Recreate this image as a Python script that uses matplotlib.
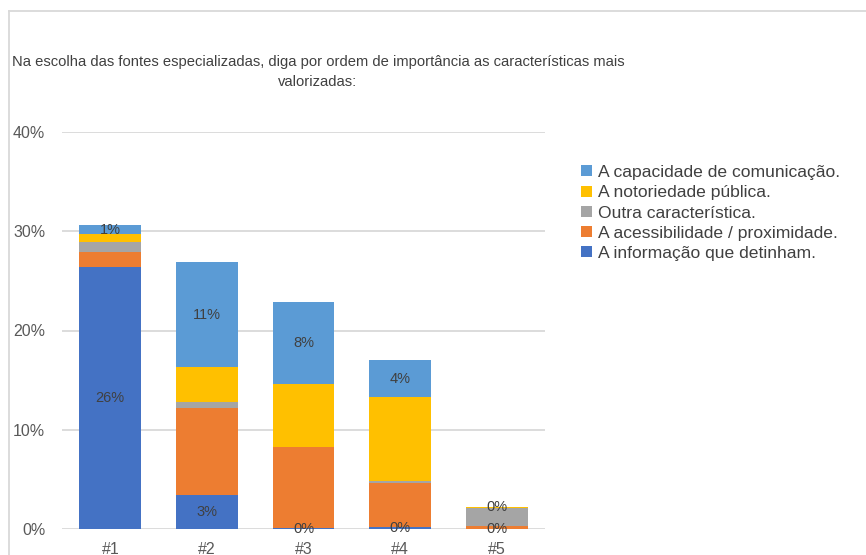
import matplotlib.pyplot as plt
from matplotlib.lines import Line2D

plt.rcParams['font.family'] = ['Liberation Sans', 'DejaVu Sans']

# values in percent
categories = ["#1", "#2", "#3", "#4", "#5"]
informacao = [26.4, 3.4, 0.1, 0.2, 0.0]
acessibilidade = [1.5, 8.8, 8.2, 4.4, 0.3]
outra = [1.0, 0.6, 0.0, 0.2, 1.8]
notoriedade = [0.8, 3.5, 6.3, 8.5, 0.1]
comunicacao = [0.9, 10.6, 8.3, 3.7, 0.0]
yticks = [0, 10, 20, 30, 40]

series = [
    ("A informação que detinham.", informacao, "#4472C4"),
    ("A acessibilidade / proximidade.", acessibilidade, "#ED7D31"),
    ("Outra característica.", outra, "#A5A5A5"),
    ("A notoriedade pública.", notoriedade, "#FFC000"),
    ("A capacidade de comunicação.", comunicacao, "#5B9BD5"),
]
labelled = ["A informação que detinham.", "A capacidade de comunicação."]

fig = plt.figure(figsize=(8.66, 5.55), dpi=100)
ax = fig.add_axes([62 / 866, 26 / 555, 483 / 866, 397 / 555])

x = list(range(len(categories)))
bottom = [0.0] * len(categories)
handles = []
for name, vals, col in series:
    bars = ax.bar(x, vals, 0.64, bottom=bottom, color=col, label=name, zorder=3)
    handles.append(bars)
    if name in labelled:
        txts = ax.bar_label(bars, labels=[f"{v:.0f}%" for v in vals], label_type='center',
                            fontsize=10.5, color='#404040')
        for t in txts:
            t.set_zorder(10)
    bottom = [b + v for b, v in zip(bottom, vals)]

ax.set_xlim(-0.5, len(categories) - 0.5)
ax.set_ylim(0, 40)
ax.set_yticks(yticks)
ax.set_yticklabels([f"{t}%" for t in yticks], fontsize=11.5, color='#595959')
ax.set_xticks(x)
ax.set_xticklabels(categories, fontsize=11.5, color='#595959')
ax.tick_params(axis='both', length=0)
ax.tick_params(axis='y', pad=12)
ax.tick_params(axis='x', pad=9)
ax.grid(axis='y', color='#D9D9D9', linewidth=1.3, zorder=0)
for s in ax.spines.values():
    s.set_visible(False)

fig.text(318 / 866, 1 - 72 / 555,
         "Na escolha das fontes especializadas, diga por ordem de importância as características mais\nvalorizadas:",
         ha='center', va='center', fontsize=10.6, color='#404040', linespacing=1.6)

fig.legend(handles[::-1], [s[0] for s in series][::-1], loc='upper left',
           bbox_to_anchor=(581 / 866, 1 - 165 / 555), frameon=False, fontsize=12.6,
           handlelength=0.6, handleheight=0.6, handletextpad=0.35, labelspacing=0.3,
           borderpad=0, borderaxespad=0, labelcolor='#404040')

# outer chart border (top and left edges visible)
fig.add_artist(Line2D([8.5 / 866, 8.5 / 866], [0, 1 - 11 / 555], color='#D9D9D9', lw=1.3))
fig.add_artist(Line2D([8.5 / 866, 1], [1 - 11 / 555, 1 - 11 / 555], color='#D9D9D9', lw=1.3))

fig.savefig("out.png", dpi=100)
